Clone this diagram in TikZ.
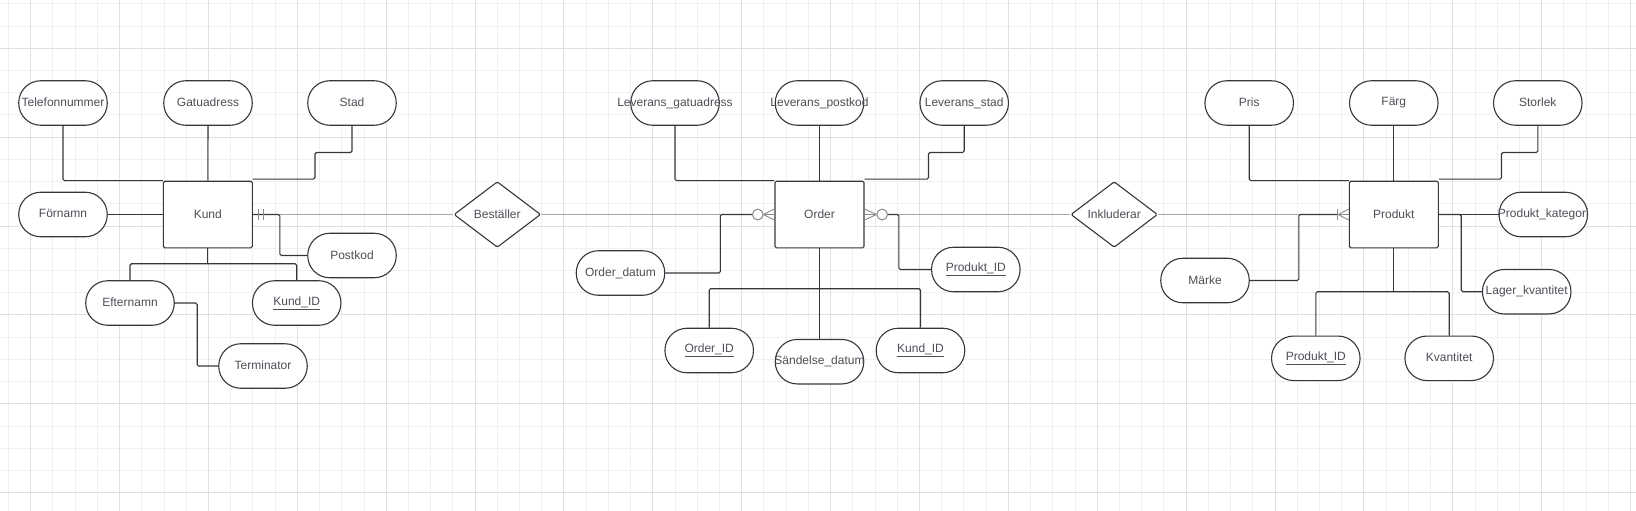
\documentclass[tikz,border=0pt]{standalone}
\usepackage{fontspec}
\setmainfont{Liberation Sans}
\usetikzlibrary{shapes.geometric}
\definecolor{linec}{RGB}{52,56,62}
\definecolor{textc}{RGB}{75,79,86}
\definecolor{relc}{RGB}{165,165,165}
\definecolor{crowc}{RGB}{140,140,140}
\definecolor{minorg}{RGB}{240,240,240}
\definecolor{majorg}{RGB}{224,224,224}
\newcommand{\lbl}[1]{\makebox[0pt]{\raisebox{1.6pt}{#1}}}
\newcommand{\keylbl}[1]{\makebox[0pt]{\raisebox{1.6pt}{\underline{#1}}}}
\begin{document}
\begin{tikzpicture}[x=1pt,y=-1pt,
  font=\fontsize{12}{14}\selectfont,
  attr/.style={draw=linec, fill=white, line width=1.1pt, rounded corners=22pt, minimum width=88.5pt, minimum height=44.5pt, inner sep=0pt, text=textc},
  ent/.style={draw=linec, fill=white, line width=1.1pt, rounded corners=1.5pt, minimum width=89pt, minimum height=66.6pt, inner sep=0pt, text=textc},
  rel/.style={draw=linec, fill=white, line width=1.1pt, shape=diamond, rounded corners=1.5pt, minimum width=86.7pt, minimum height=65.7pt, inner sep=0pt, text=textc},
  conn/.style={draw=linec, line width=1.1pt, rounded corners=1.5pt},
  relline/.style={draw=relc, line width=1.1pt},
  crow/.style={draw=crowc, line width=0.9pt},
  ring/.style={circle, draw=crowc, fill=white, line width=0.9pt, minimum size=10.6pt, inner sep=0pt}
]
\useasboundingbox (0,0) rectangle (1636,511);
\fill[white] (0,0) rectangle (1636,511);
% grid
\foreach \i in {0,...,73} \draw[minorg, line width=1pt] ({8.48+22.22*\i},0) -- ++(0,511);
\foreach \j in {0,...,22} \draw[minorg, line width=1pt] (0,{3.86+22.22*\j}) -- ++(1636,0);
\foreach \i in {0,...,18} \draw[majorg, line width=1pt] ({30.7+88.88*\i},0) -- ++(0,511);
\foreach \j in {0,...,5} \draw[majorg, line width=1pt] (0,{48.3+88.88*\j}) -- ++(1636,0);

% ---- Kund side
\node[ent] (kund) at (207.8,214.5) {\lbl{Kund}};
\node[attr] (tel) at (63,103) {\lbl{Telefonnummer}};
\node[attr] (gat) at (208,103) {\lbl{Gatuadress}};
\node[attr] (stad) at (352,103) {\lbl{Stad}};
\node[attr] (forn) at (63,214.5) {\lbl{Förnamn}};
\node[attr] (postkod) at (352,255.5) {\lbl{Postkod}};
\node[attr] (efter) at (130,303) {\lbl{Efternamn}};
\node[attr] (kid) at (296.7,303) {\keylbl{Kund\_ID}};
\node[attr] (term) at (263,366) {\lbl{Terminator}};

% ---- relations
\node[rel] (best) at (497.3,214.5) {\lbl{Beställer}};
\node[rel] (inkl) at (1114.2,214.5) {\lbl{Inkluderar}};

% ---- Order side
\node[ent] (order) at (819.5,214.5) {\lbl{Order}};
\node[attr] (lg) at (675,103) {\lbl{Leverans\_gatuadress}};
\node[attr] (lp) at (819.5,103) {\lbl{Leverans\_postkod}};
\node[attr] (ls) at (964.2,103) {\lbl{Leverans\_stad}};
\node[attr] (odatum) at (620.5,273) {\lbl{Order\_datum}};
\node[attr] (oid) at (709.2,350.5) {\keylbl{Order\_ID}};
\node[attr] (sand) at (819.5,361.7) {\lbl{Sändelse\_datum}};
\node[attr] (okid) at (920.5,350.5) {\keylbl{Kund\_ID}};
\node[attr] (opid) at (975.8,269.5) {\keylbl{Produkt\_ID}};

% ---- Produkt side
\node[ent] (produkt) at (1393.8,214.5) {\lbl{Produkt}};
\node[attr] (pris) at (1249.2,103) {\lbl{Pris}};
\node[attr] (farg) at (1393.8,103) {\lbl{Färg}};
\node[attr] (stor) at (1537.8,103) {\lbl{Storlek}};
\node[attr] (pkat) at (1543.3,214.5) {\lbl{Produkt\_kategori}};
\node[attr] (lager) at (1526.7,291.7) {\lbl{Lager\_kvantitet}};
\node[attr] (ppid) at (1315.8,358.3) {\keylbl{Produkt\_ID}};
\node[attr] (kvant) at (1449.2,358.3) {\lbl{Kvantitet}};
\node[attr] (marke) at (1205,280.5) {\lbl{Märke}};

% cardinality helpers
\node[ring] (c1) at ([xshift=-16.7pt]order.west) {};
\node[ring] (c2) at ([xshift=17.6pt]order.east) {};
\coordinate (pbar) at ([xshift=-11.3pt]produkt.west);

% relationship lines (gray)
\draw[relline] (kund.east) -- (best.west);
\draw[relline] (best.east) -- (c1.west);
\draw[relline] (c2.east) -- (inkl.west);
\draw[relline] (inkl.east) -- (pbar);

% Kund connectors
\draw[conn] (tel.south) |- (kund.north west);
\draw[conn] (gat.south) -- (kund.north);
\draw[conn] (stad.south) -- ++(0,26.7) -- ++(-37,0) |- ([yshift=1.5pt]kund.north east);
\draw[conn] (forn.east) -- (kund.west);
\draw[conn] (kund.east) -- ++(27,0) |- (postkod.west);
\draw[conn] (kund.south) -- ++(0,15.4) coordinate (kb);
\draw[conn] (kb) -| (efter.north);
\draw[conn] (kb) -| (kid.north);
\draw[conn] (efter.east) -- ++(22.4,0) |- (term.west);
% one-and-only-one marks
\draw[crow] ([xshift=6pt,yshift=5.7pt]kund.east) -- ([xshift=6pt,yshift=-5.7pt]kund.east);
\draw[crow] ([xshift=11pt,yshift=5.7pt]kund.east) -- ([xshift=11pt,yshift=-5.7pt]kund.east);

% Order connectors
\draw[conn] (lg.south) |- (order.north west);
\draw[conn] (lp.south) -- (order.north);
\draw[conn] (ls.south) -- ++(0,26.7) -- ++(-35.7,0) |- ([yshift=1.5pt]order.north east);
\draw[conn] (odatum.east) -- ++(55,0) |- (c1.west);
\draw[conn] (order.south) -- (sand.north);
\draw[conn] (order.south) -- ++(0,40.4) coordinate (ob);
\draw[conn] (ob) -| (oid.north);
\draw[conn] (ob) -| (okid.north);
\draw[conn] (c2.east) -- ++(11,0) |- (opid.west);
% zero-or-many marks
\draw[crow] (c1.east) -- ([yshift=5.5pt]order.west);
\draw[crow] (c1.east) -- (order.west);
\draw[crow] (c1.east) -- ([yshift=-5.5pt]order.west);
\draw[crow] (c2.west) -- ([yshift=5.5pt]order.east);
\draw[crow] (c2.west) -- (order.east);
\draw[crow] (c2.west) -- ([yshift=-5.5pt]order.east);
\node[ring] at (c1) {};
\node[ring] at (c2) {};

% Produkt connectors
\draw[conn] (pris.south) |- (produkt.north west);
\draw[conn] (farg.south) -- (produkt.north);
\draw[conn] (stor.south) -- ++(0,26.7) -- ++(-36.3,0) |- ([yshift=1.5pt]produkt.north east);
\draw[conn] (marke.east) -- ++(49,0) |- (pbar);
\draw[conn] (produkt.east) -- (pkat.west);
\draw[conn] (produkt.east) -- ++(22.4,0) |- (lager.west);
\draw[conn] (produkt.south) -- ++(0,43.4) coordinate (pb);
\draw[conn] (pb) -| (ppid.north);
\draw[conn] (pb) -| (kvant.north);
% one-or-many marks
\draw[crow] ([yshift=5.8pt]pbar) -- ([yshift=-5.8pt]pbar);
\draw[crow] ([xshift=0.7pt]pbar) -- ([yshift=5.5pt]produkt.west);
\draw[crow] ([xshift=0.7pt]pbar) -- (produkt.west);
\draw[crow] ([xshift=0.7pt]pbar) -- ([yshift=-5.5pt]produkt.west);
\end{tikzpicture}
\end{document}
